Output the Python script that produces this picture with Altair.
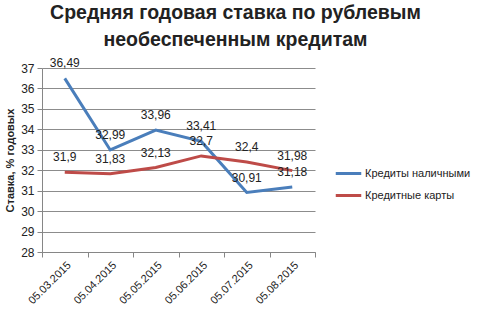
import altair as alt
import pandas as pd

dates = ["05.03.2015", "05.04.2015", "05.05.2015", "05.06.2015", "05.07.2015", "05.08.2015"]
cash = [36.49, 32.99, 33.96, 33.41, 30.91, 31.18]
cards = [31.9, 31.83, 32.13, 32.7, 32.4, 31.98]
series_names = ["Кредиты наличными", "Кредитные карты"]
colors = ["#4A7EBB", "#BE4B48"]

rows = []
for d, v in zip(dates, cash):
    rows.append({"date": d, "value": v, "series": series_names[0], "label": f"{v:g}".replace(".", ",")})
for d, v in zip(dates, cards):
    rows.append({"date": d, "value": v, "series": series_names[1], "label": f"{v:g}".replace(".", ",")})
df = pd.DataFrame(rows)

font = "Liberation Sans"

x = alt.X("date:O", sort=dates, bandPosition=0.5,
          scale=alt.Scale(type="band", paddingInner=0, paddingOuter=0),
          axis=alt.Axis(title=None, labelAngle=-45, labelAlign="right", labelBaseline="top",
                        tickBand="extent", grid=False, domainColor="#868686", tickColor="#868686",
                        tickSize=5, labelFontSize=11, labelColor="#222", labelFont=font, labelPadding=2))
y = alt.Y("value:Q", scale=alt.Scale(domain=[28, 37], nice=False, zero=False),
          axis=alt.Axis(title="Ставка, % годовых", values=list(range(28, 38)), grid=True,
                        gridColor="#8c8c8c", domainColor="#868686", tickColor="#868686", tickSize=5,
                        labelFontSize=12, labelColor="#222", labelFont=font, labelPadding=3,
                        titleFont=font, titleFontSize=11, titleFontWeight="bold", titleColor="#222",
                        titlePadding=5))
color = alt.Color("series:N", sort=series_names,
                  scale=alt.Scale(domain=series_names, range=colors),
                  legend=alt.Legend(title=None, orient="none", legendX=292, legendY=91,
                                    symbolType="stroke", symbolSize=650, symbolStrokeWidth=3,
                                    labelFont=font, labelFontSize=11, labelColor="#222",
                                    rowPadding=1, labelOffset=2))

base = alt.Chart(df)
lines = base.mark_line(strokeWidth=3).encode(x=x, y=y, color=color, detail="series:N")
labels = base.mark_text(dy=-15, fontSize=12, font=font, color="#222").encode(
    x=x, y=y, text="label:N")

chart = alt.layer(lines, labels).properties(
    width=273, height=184,
    autosize=alt.AutoSizeParams(type="none"),
    padding={"left": 42, "top": 68, "right": 165, "bottom": 60},
    title=alt.Title(["Средняя годовая ставка по рублевым", "необеспеченным кредитам"],
                    font=font, fontSize=19.5, fontWeight="bold", color="#222",
                    anchor="middle", dx=57, offset=7, lineHeight=27),
).configure_view(stroke=None)

chart.save("out.html", embed_options={"renderer": "svg", "actions": False})
